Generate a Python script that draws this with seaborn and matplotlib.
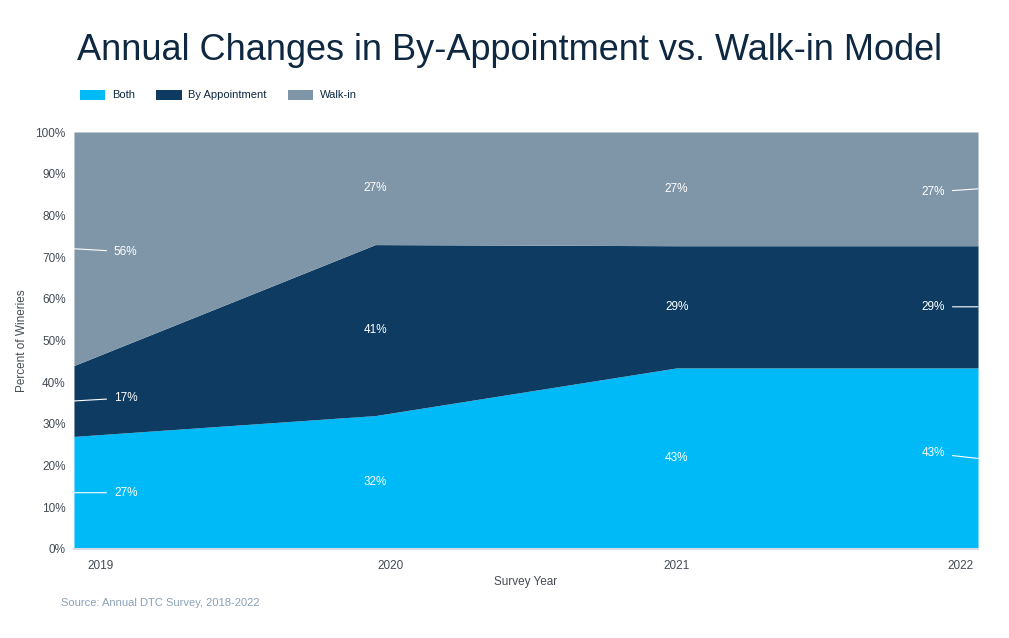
import numpy as np
import matplotlib
matplotlib.use("Agg")
import matplotlib.pyplot as plt
import matplotlib.transforms as mtransforms
from matplotlib.patches import Patch
import seaborn as sns

# data
years = ["2019", "2020", "2021", "2022"]
series_names = ["Both", "By Appointment", "Walk-in"]
both = [27, 32, 43, 43]
by_appointment = [17, 41, 29, 29]
walk_in = [56, 27, 27, 27]

colors = ["#00B9F7", "#0D3B61", "#7F96A8"]
title_color = "#0E2841"
tick_color = "#444B55"

sns.set_theme(style="white")
plt.rcParams["font.family"] = ["Liberation Sans", "DejaVu Sans"]

fig = plt.figure(figsize=(10.09, 6.38), dpi=100)
ax = fig.add_axes([0.0733, 0.1395, 0.8960, 0.6536])

x = np.arange(len(years))
stack = np.array([both, by_appointment, walk_in], dtype=float)
pct = stack / stack.sum(axis=0) * 100

ax.stackplot(x, pct, colors=colors, linewidth=0)

ax.set_xlim(0, len(years) - 1)
ax.set_ylim(0, 100)
ax.set_yticks(np.arange(0, 101, 10))
ax.set_yticklabels([f"{v}%" for v in range(0, 101, 10)])
ax.set_xticks(x)
ax.set_xticklabels(years)
ax.tick_params(axis="both", colors=tick_color, labelsize=8.5, length=0, pad=6)
ax.tick_params(axis="x", pad=8)
for lbl, shift in zip(ax.get_xticklabels(), [27, 15, 0, -18]):
    lbl.set_transform(lbl.get_transform() + mtransforms.ScaledTranslation(shift / 100, 0, fig.dpi_scale_trans))

for side in ["top", "right", "left"]:
    ax.spines[side].set_visible(False)
ax.spines["bottom"].set_color("#D5DCE3")
ax.spines["bottom"].set_linewidth(1.5)

ax.set_xlabel("Survey Year", fontsize=8.5, color=tick_color, labelpad=3)
ax.set_ylabel("Percent of Wineries", fontsize=8.5, color=tick_color, labelpad=5)

# segment labels; edge labels sit off the area edge with a leader line
bottoms = np.vstack([np.zeros(len(years)), np.cumsum(pct, axis=0)[:-1]])
mids = bottoms + pct / 2
label_dy = [[0, 0, 0, 5], [3, 0, 0, 0], [-3, 0, 0, -3]]
for s in range(len(series_names)):
    vals = stack[s]
    for i in range(len(years)):
        txt = f"{int(vals[i])}%"
        if i == 0 or i == len(years) - 1:
            dx = 40 if i == 0 else -33
            ax.annotate(txt, xy=(x[i], mids[s, i]), xytext=(dx, label_dy[s][i]),
                        textcoords="offset pixels", ha="left" if i == 0 else "right",
                        va="center", color="white", fontsize=8.5,
                        arrowprops=dict(arrowstyle="-", color="white", lw=0.8,
                                        shrinkA=3, shrinkB=0))
        else:
            ax.text(x[i], mids[s, i], txt, ha="center", va="center",
                    color="white", fontsize=8.5)

fig.text(0.076, 0.921, "Annual Changes in By-Appointment vs. Walk-in Model",
         fontsize=26, color=title_color, ha="left", va="center")

handles = [Patch(facecolor=c, edgecolor="none") for c in colors]
fig.legend(handles, series_names, loc="center left", bbox_to_anchor=(0.069, 0.851),
           ncol=3, frameon=False, fontsize=8, handlelength=2.3, handleheight=1.0,
           columnspacing=1.9, handletextpad=0.6, labelcolor=title_color)

fig.text(0.060, 0.055, "Source: Annual DTC Survey, 2018-2022", fontsize=8,
         color="#8AA0B6", ha="left", va="center")

fig.savefig("out.png", dpi=100)
